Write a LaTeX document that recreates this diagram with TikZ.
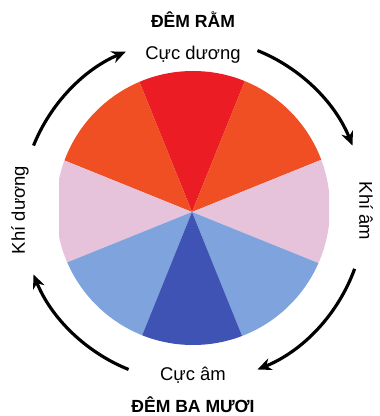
\documentclass[tikz,border=0pt]{standalone}
\usepackage{fontspec}
\setmainfont{Liberation Sans}
\usetikzlibrary{arrows.meta}
\definecolor{doTuoi}{HTML}{EC1C24}
\definecolor{camDo}{HTML}{F04E23}
\definecolor{hongNhat}{HTML}{E6C3DA}
\definecolor{xanhNhat}{HTML}{7FA3DD}
\definecolor{xanhDam}{HTML}{3E53B4}

\begin{document}
\begin{tikzpicture}[x=0.02cm,y=0.02cm,
  vong/.style={line width=1.8pt,-{Stealth[length=8pt,width=7pt]}},
  chu/.style={font=\fontsize{10.5}{12}\selectfont},
  tieude/.style={font=\fontsize{10}{12}\selectfont\bfseries}]
\useasboundingbox (0,0) rectangle (379,416);
\coordinate (tam) at (192,204);
\coordinate (vanh) at (193,206);
\begin{scope}
\clip (193,208) circle (137);
\clip (59,0) rectangle (329,416);
\foreach \a/\b/\mau in {68/112/doTuoi,22/68/camDo,112/158/camDo,-22/22/hongNhat,158/202/hongNhat,-68/-22/xanhNhat,202/248/xanhNhat,248/292/xanhDam}
  \fill[\mau] (tam) -- ++(\a:300) arc[start angle=\a,end angle=\b,radius=300] -- cycle;
\end{scope}
\coordinate (trenTrai) at ([shift={(158:172)}]vanh);
\coordinate (trenPhai) at ([shift={(68:172)}]vanh);
\coordinate (duoiPhai) at ([shift={(-20:172)}]vanh);
\coordinate (duoiTrai) at ([shift={(248:172)}]vanh);
\draw[vong] (trenTrai) arc[start angle=158,end angle=113,radius=172];
\draw[vong] (trenPhai) arc[start angle=68,end angle=22,radius=172];
\draw[vong] (duoiPhai) arc[start angle=-20,end angle=-68,radius=172];
\draw[vong] (duoiTrai) arc[start angle=248,end angle=202,radius=172];
\node[tieude] (ram) at (193,396) {ĐÊM RẰM};
\node[chu] (cucDuong) at (193,361) {Cực dương};
\node[chu,rotate=90] (khiDuong) at (20,206) {Khí dương};
\node[chu,rotate=-90] (khiAm) at (366,205) {Khí âm};
\node[chu] (cucAm) at (193,41) {Cực âm};
\node[tieude] (baMuoi) at (193,11) {ĐÊM BA MƯƠI};
\end{tikzpicture}
\end{document}
